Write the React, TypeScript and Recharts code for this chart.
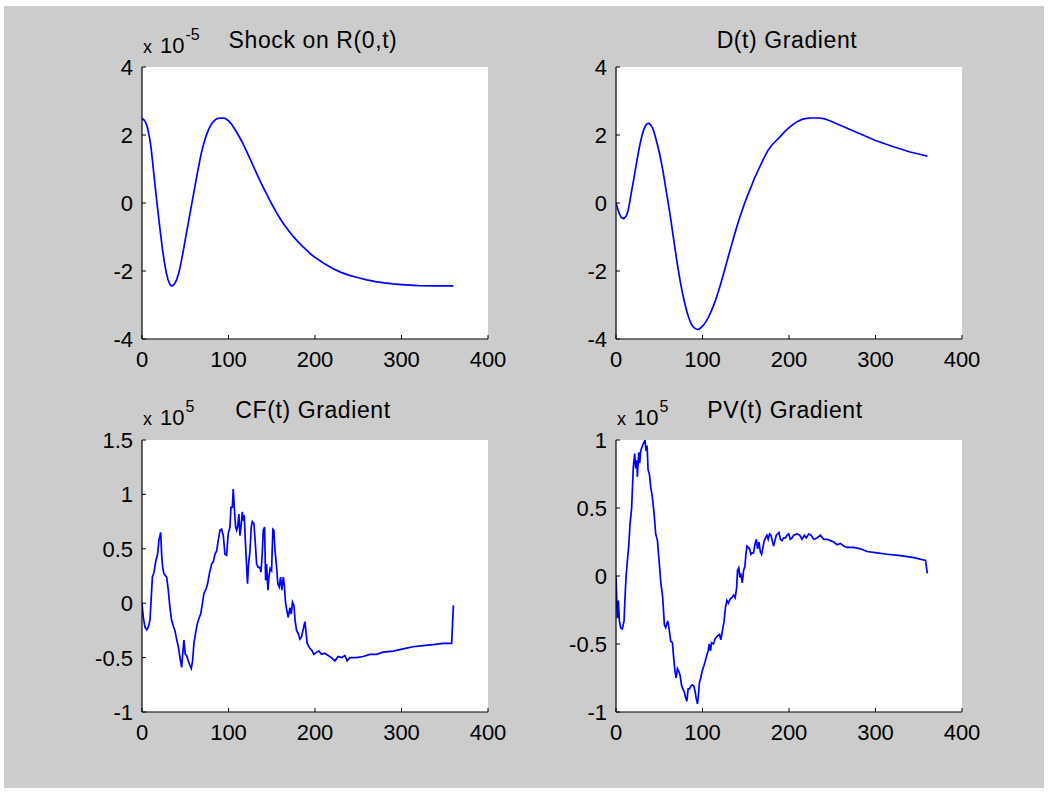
import React from "react";
import { LineChart, Line, XAxis, YAxis } from "recharts";

// ---------- data ----------
const shockT = [0,2,4,6,8,10,12,14,16,18,20,22,24,26,28,30,32,34,36,38,40,42,44,46,48,50,52,54,56,58,60,62,64,66,68,70,72,74,76,78,80,82,84,86,88,92,96,100,104,108,112,116,120,124,128,132,136,140,145,150,155,160,165,170,175,180,185,190,195,200,210,220,230,240,250,260,270,280,290,300,320,340,360];
const shockV = [2.49,2.45,2.38,2.25,2.02,1.72,1.28,0.78,0.3,-0.15,-0.6,-1.02,-1.42,-1.76,-2.04,-2.25,-2.38,-2.44,-2.42,-2.36,-2.26,-2.1,-1.9,-1.64,-1.37,-1.08,-0.8,-0.52,-0.24,0.04,0.32,0.6,0.88,1.14,1.4,1.62,1.8,1.96,2.1,2.22,2.31,2.38,2.43,2.47,2.49,2.5,2.49,2.42,2.3,2.14,1.97,1.78,1.57,1.35,1.12,0.9,0.68,0.47,0.22,-0.03,-0.26,-0.47,-0.66,-0.83,-0.99,-1.13,-1.26,-1.38,-1.5,-1.6,-1.77,-1.92,-2.04,-2.13,-2.2,-2.26,-2.31,-2.35,-2.38,-2.4,-2.43,-2.44,-2.44];

const dT = [0,2,4,6,9,12,14,16,18,20,22,24,26,28,30,32,34,36,38,40,42,44,46,48,50,52,54,56,58,60,62,64,66,68,70,72,74,76,78,80,82,84,86,88,90,92,94,96,98,100,102,104,106,108,110,112,115,118,121,124,127,130,133,136,139,142,145,148,151,155,160,165,170,175,180,185,190,195,200,205,210,215,220,225,230,235,240,245,250,255,260,270,280,290,300,310,320,330,340,350,360];
const dV = [0,-0.18,-0.32,-0.42,-0.46,-0.38,-0.22,0.05,0.35,0.62,0.92,1.22,1.5,1.76,1.98,2.15,2.27,2.33,2.34,2.3,2.22,2.08,1.9,1.7,1.5,1.25,0.98,0.68,0.36,0.06,-0.26,-0.6,-0.95,-1.3,-1.64,-1.97,-2.27,-2.54,-2.78,-3.0,-3.2,-3.37,-3.5,-3.6,-3.66,-3.7,-3.72,-3.71,-3.67,-3.62,-3.56,-3.49,-3.4,-3.3,-3.19,-3.07,-2.86,-2.63,-2.38,-2.11,-1.84,-1.56,-1.29,-1.02,-0.76,-0.51,-0.28,-0.06,0.15,0.4,0.72,1.0,1.27,1.52,1.7,1.83,1.96,2.1,2.22,2.32,2.4,2.46,2.49,2.5,2.5,2.5,2.48,2.44,2.39,2.33,2.28,2.17,2.06,1.95,1.84,1.75,1.66,1.58,1.5,1.44,1.38];

const cfT = [0,1.5,3.5,5.4,7.3,9.2,10.4,12,13.9,16,18,19.6,21.6,22.7,23.9,25.4,28.5,30.4,32.3,34.3,36.2,38,40,42,43.9,45.8,47,48.5,50,51.6,53.5,55.4,57,58.5,60,62,63.9,65.8,67.8,69.7,71.6,74,75.9,77.8,80.5,82.4,84.3,86.3,88.2,90.1,92,94,95.9,97.8,99.7,101.7,102.8,104.4,105.5,106.7,108.2,109.4,110.5,112,113.2,114.4,116,117,118.2,119.8,121,122,123.2,124.8,126.3,127.5,129.4,131,132.5,134.4,136.3,137.5,139,140.2,141.7,142.9,144,145.6,146.7,148.2,149.8,151.3,152.5,153.6,155.6,157,158.6,160.2,161.7,163.3,164.4,166,167.5,169,171,172.5,174,175.6,177,178.7,180.6,182.5,184.4,186.4,188.3,189.4,191,193,194.8,196.8,198.7,201.8,204.5,207.5,211.4,215.2,219,223,226.8,230.7,234.5,237.2,240.3,248,255.7,263.4,271,278.8,290.3,302,313.4,325,336.5,348,358,359,360];
const cfV = [0,-0.13,-0.22,-0.245,-0.22,-0.16,0.01,0.24,0.285,0.39,0.45,0.58,0.65,0.45,0.33,0.27,0.24,0.12,-0.04,-0.16,-0.21,-0.25,-0.33,-0.4,-0.5,-0.59,-0.47,-0.34,-0.47,-0.48,-0.53,-0.57,-0.6,-0.53,-0.37,-0.27,-0.19,-0.14,-0.1,-0.01,0.09,0.13,0.18,0.27,0.36,0.38,0.45,0.48,0.58,0.67,0.68,0.62,0.45,0.44,0.64,0.7,0.88,0.88,1.05,0.88,0.7,0.67,0.7,0.82,0.62,0.7,0.84,0.76,0.81,0.52,0.33,0.18,0.36,0.48,0.7,0.75,0.73,0.55,0.36,0.33,0.33,0.285,0.45,0.67,0.7,0.21,0.36,0.12,0.24,0.32,0.3,0.68,0.67,0.5,0.33,0.18,0.15,0.24,0.12,0.24,0.18,0,-0.07,-0.13,-0.04,-0.1,0.01,-0.02,-0.16,-0.25,-0.28,-0.33,-0.31,-0.24,-0.17,-0.25,-0.37,-0.4,-0.42,-0.44,-0.47,-0.45,-0.44,-0.47,-0.46,-0.48,-0.5,-0.53,-0.49,-0.5,-0.48,-0.53,-0.5,-0.5,-0.49,-0.47,-0.47,-0.45,-0.44,-0.42,-0.4,-0.39,-0.38,-0.37,-0.37,-0.19,-0.02];

const pvT = [0,0.8,1.5,2.7,3.9,5.4,7.3,9.3,10.4,11.6,13.1,14.7,16.2,18.1,20,21.6,22.8,24,24.7,26.3,27.4,28.6,30.1,32.4,33.6,34.7,35.9,37.1,38.6,40.2,42.1,44,45.9,47.9,49.8,51.7,54,56,57.5,59.8,61.4,63.3,65.3,66.4,68,69.5,71,72.6,74.1,75.7,77.2,78.8,80.3,81.9,83.4,84.9,86.5,88.4,90,91.5,92.7,94.2,95.4,96.5,98,99.6,101.2,103,105,106.6,107.7,109.3,110.4,112.7,114.7,117.4,119.7,121.2,122.8,125,126.6,128.2,130,132,134,136,137.8,139.4,140.5,142,143.2,144.4,146,147.5,149,150.2,151.4,152.9,154.4,156,157.5,159,160.6,162.2,163.7,165.3,166.8,168.3,169.9,171.4,173,174.5,176,177.6,179.2,180.7,182.2,183.8,185.3,186.9,188.4,190,191.9,193.8,195.8,197.7,199.6,201.5,203.5,205.4,209.3,212.4,215,217.8,220,222.8,225.5,228.6,232.4,236.3,240.2,244,247.9,251.7,255.6,259.5,263.3,267.2,274.9,282.6,290.3,302,313.5,329,344.4,357.9,359,360];
const pvV = [0,-0.16,-0.31,-0.18,-0.33,-0.38,-0.39,-0.33,-0.16,-0.01,0.11,0.22,0.38,0.5,0.8,0.9,0.79,0.85,0.73,0.91,0.83,0.92,0.95,0.985,1.0,0.92,0.96,0.78,0.75,0.65,0.58,0.46,0.31,0.26,0.11,-0.04,-0.16,-0.36,-0.38,-0.33,-0.39,-0.48,-0.49,-0.58,-0.69,-0.75,-0.68,-0.7,-0.73,-0.8,-0.83,-0.85,-0.89,-0.92,-0.83,-0.83,-0.81,-0.8,-0.81,-0.85,-0.9,-0.94,-0.87,-0.78,-0.75,-0.7,-0.67,-0.63,-0.58,-0.55,-0.5,-0.55,-0.49,-0.5,-0.46,-0.44,-0.43,-0.47,-0.41,-0.33,-0.23,-0.18,-0.2,-0.17,-0.16,-0.14,-0.16,-0.09,0.04,0.06,-0.01,0.02,-0.05,0.04,0.07,0.16,0.22,0.21,0.2,0.16,0.17,0.17,0.23,0.27,0.2,0.25,0.18,0.16,0.21,0.26,0.28,0.3,0.27,0.31,0.3,0.26,0.22,0.26,0.3,0.31,0.32,0.27,0.26,0.28,0.28,0.3,0.31,0.27,0.28,0.3,0.31,0.3,0.27,0.3,0.28,0.31,0.3,0.27,0.28,0.3,0.27,0.27,0.26,0.25,0.23,0.24,0.22,0.21,0.21,0.2,0.18,0.17,0.16,0.15,0.135,0.115,0.06,0.02];

const xTicks = [0, 100, 200, 300, 400];
const shockTicks = [-4, -2, 0, 2, 4];
const dTicks = [-4, -2, 0, 2, 4];
const cfTicks = [-1, -0.5, 0, 0.5, 1, 1.5];
const pvTicks = [-1, -0.5, 0, 0.5, 1];

// ---------- styling ----------
const FONT = "'Liberation Sans', Arial, sans-serif";
const FS = 22;
const TICK = 4;
const BLUE = "#0000ff";
const PLOT_W = 346;
const PLOT_H = 272;
const PAD_L = 70;
const PAD_T = 25;
const PAD_R = 40;
const PAD_B = 40;

const BottomTick = (p: any) => (
  <g>
    <line x1={p.x} y1={p.y} x2={p.x} y2={p.y - TICK} stroke="#000" strokeWidth={1} />
    <text x={p.x} y={p.y + 28} textAnchor="middle" fontFamily={FONT} fontSize={FS} fill="#000">
      {String(p.payload.value)}
    </text>
  </g>
);
const TopTick = (p: any) => (
  <line x1={p.x} y1={p.y} x2={p.x} y2={p.y + TICK} stroke="#000" strokeWidth={1} />
);
const LeftTick = (p: any) => (
  <g>
    <line x1={p.x} y1={p.y} x2={p.x + TICK} y2={p.y} stroke="#000" strokeWidth={1} />
    <text x={p.x - 9} y={p.y + 8} textAnchor="end" fontFamily={FONT} fontSize={FS} fill="#000">
      {String(p.payload.value)}
    </text>
  </g>
);
const RightTick = (p: any) => (
  <line x1={p.x} y1={p.y} x2={p.x - TICK} y2={p.y} stroke="#000" strokeWidth={1} />
);

type PanelProps = {
  left: number;
  top: number;
  ts: number[];
  vs: number[];
  yDomain: [number, number];
  yTicks: number[];
};

function Panel({ left, top, ts, vs, yDomain, yTicks }: PanelProps) {
  const data = ts.map((t, i) => ({ t, v: vs[i] }));
  return (
    <>
      <div
        style={{ position: "absolute", left, top, width: PLOT_W, height: PLOT_H, background: "#ffffff" }}
      />
      <div style={{ position: "absolute", left: left - PAD_L, top: top - PAD_T }}>
        <LineChart
          width={PAD_L + PLOT_W + PAD_R}
          height={PAD_T + PLOT_H + PAD_B}
          data={data}
          margin={{ top: PAD_T, right: PAD_R, bottom: 0, left: 0 }}
        >
          <XAxis
            xAxisId="b"
            dataKey="t"
            type="number"
            domain={[0, 400]}
            ticks={xTicks}
            interval={0}
            height={PAD_B}
            tickSize={0}
            tickMargin={0}
            tickLine={false}
            axisLine={{ stroke: "#000", strokeWidth: 1.2 }}
            tick={BottomTick}
            allowDataOverflow
          />
          <XAxis
            xAxisId="t"
            orientation="top"
            dataKey="t"
            type="number"
            domain={[0, 400]}
            ticks={xTicks}
            interval={0}
            height={0}
            tickSize={0}
            tickMargin={0}
            tickLine={false}
            axisLine={{ stroke: "#000", strokeWidth: 1.2 }}
            tick={TopTick}
            allowDataOverflow
          />
          <YAxis
            yAxisId="l"
            type="number"
            domain={yDomain}
            ticks={yTicks}
            interval={0}
            width={PAD_L}
            tickSize={0}
            tickMargin={0}
            tickLine={false}
            axisLine={{ stroke: "#000", strokeWidth: 1.2 }}
            tick={LeftTick}
            allowDataOverflow
          />
          <YAxis
            yAxisId="r"
            orientation="right"
            type="number"
            domain={yDomain}
            ticks={yTicks}
            interval={0}
            width={0}
            tickSize={0}
            tickMargin={0}
            tickLine={false}
            axisLine={{ stroke: "#000", strokeWidth: 1.2 }}
            tick={RightTick}
            allowDataOverflow
          />
          <Line
            xAxisId="b"
            yAxisId="l"
            type="linear"
            dataKey="v"
            stroke={BLUE}
            strokeWidth={1.7}
            dot={false}
            activeDot={false}
            isAnimationActive={false}
          />
        </LineChart>
      </div>
    </>
  );
}

function Multiplier({ x, y, exp }: { x: number; y: number; exp: string }) {
  return (
    <text x={x} y={y} fontFamily={FONT} fontSize={22} fill="#000">
      <tspan fontSize={18}>x</tspan>
      <tspan dx={8}>10</tspan>
      <tspan dx={1} dy={-13} fontSize={16}>{exp}</tspan>
    </text>
  );
}

const TITLE_STYLE = { fontFamily: FONT, fontSize: 23, letterSpacing: 0.6 } as const;

export default function App() {
  return (
    <div style={{ position: "absolute", left: 0, top: 0, width: 1049, height: 793, background: "#ffffff", overflow: "hidden" }}>
      <div style={{ position: "absolute", left: 4, top: 6, width: 1040, height: 782, background: "#cccccc" }} />
      <Panel left={142} top={67} ts={shockT} vs={shockV} yDomain={[-4, 4]} yTicks={shockTicks} />
      <Panel left={616} top={67} ts={dT} vs={dV} yDomain={[-4, 4]} yTicks={dTicks} />
      <Panel left={142} top={440} ts={cfT} vs={cfV} yDomain={[-1, 1.5]} yTicks={cfTicks} />
      <Panel left={616} top={440} ts={pvT} vs={pvV} yDomain={[-1, 1]} yTicks={pvTicks} />
      <svg
        width={1049}
        height={793}
        style={{ position: "absolute", left: 0, top: 0, pointerEvents: "none" }}
      >
        <Multiplier x={143} y={53} exp="-5" />
        <text x={313} y={48} textAnchor="middle" {...TITLE_STYLE} fill="#000">Shock on R(0,t)</text>
        <text x={787} y={48} textAnchor="middle" {...TITLE_STYLE} fill="#000">D(t) Gradient</text>
        <Multiplier x={143} y={425} exp="5" />
        <text x={313} y={418} textAnchor="middle" {...TITLE_STYLE} fill="#000">CF(t) Gradient</text>
        <Multiplier x={617} y={425} exp="5" />
        <text x={785} y={418} textAnchor="middle" {...TITLE_STYLE} fill="#000">PV(t) Gradient</text>
      </svg>
    </div>
  );
}
